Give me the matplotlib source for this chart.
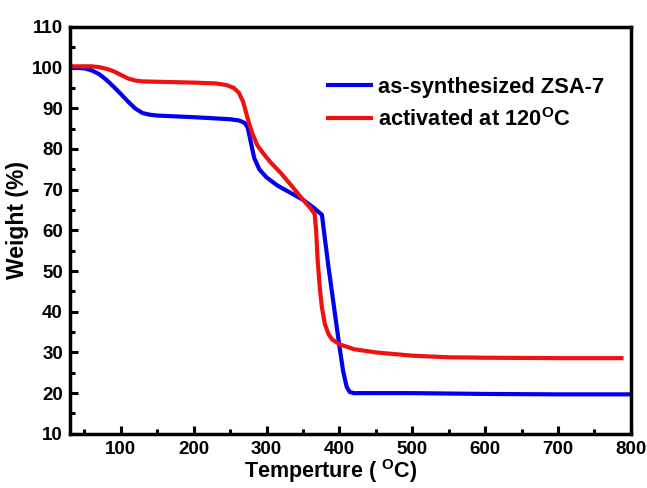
import matplotlib
matplotlib.use("Agg")
import matplotlib.pyplot as plt
import numpy as np

plt.rcParams['font.family'] = ['Liberation Sans', 'DejaVu Sans']
plt.rcParams['font.weight'] = 'bold'
plt.rcParams['mathtext.default'] = 'regular'

# as-synthesized ZSA-7 (blue)
blue_T = [30, 50, 60, 70, 80, 90, 100, 110, 120, 130, 140, 150, 200, 250, 262, 270, 274, 278, 283, 290, 300, 315, 330, 350, 365, 376, 380, 385, 390, 395, 400, 405, 410, 414, 420, 500, 600, 700, 800]
blue_W = [100, 99.8, 99.3, 98.4, 97.0, 95.3, 93.5, 91.6, 89.9, 88.8, 88.4, 88.2, 87.8, 87.3, 87.0, 86.4, 85.3, 82.0, 77.8, 75.0, 73.0, 71.0, 69.5, 67.5, 65.5, 63.8, 58.0, 51.0, 44.5, 38.0, 31.5, 25.5, 21.5, 20.3, 20.0, 20.0, 19.8, 19.7, 19.7]

# activated at 120 C (red)
red_T = [30, 60, 70, 80, 90, 100, 110, 120, 130, 150, 200, 230, 245, 255, 262, 268, 274, 280, 287, 295, 305, 320, 335, 350, 360, 366, 368, 370, 373, 376, 380, 385, 390, 400, 420, 450, 500, 550, 600, 700, 790]
red_W = [100.3, 100.3, 100.1, 99.7, 99.1, 98.2, 97.3, 96.8, 96.6, 96.5, 96.3, 96.1, 95.7, 95.0, 93.8, 91.5, 87.5, 84.0, 81.0, 79.0, 76.8, 74.0, 70.8, 67.5, 65.5, 64.0, 60.0, 53.0, 46.0, 41.0, 37.0, 34.5, 33.2, 32.0, 30.8, 30.0, 29.2, 28.8, 28.7, 28.6, 28.6]

labels = ['as-synthesized ZSA-7', 'activated at 120$^{O}$C']

fig = plt.figure(figsize=(6.47, 4.88), dpi=100)
ax = fig.add_axes([0.108, 0.111, 0.867, 0.834])

ax.plot(blue_T, blue_W, color='#0000ee', lw=3, label=labels[0], solid_capstyle='butt')
ax.plot(red_T, red_W, color='#ee1111', lw=3, label=labels[1], solid_capstyle='butt')

ax.set_xlim(30, 800)
ax.set_ylim(10, 110)
ax.set_xticks([100, 200, 300, 400, 500, 600, 700, 800])
ax.set_xticks(np.arange(50, 800, 50), minor=True)
ax.set_yticks(np.arange(10, 111, 10))
ax.set_yticks(np.arange(15, 110, 10), minor=True)
ax.tick_params(which='major', direction='in', length=6, width=2.2, labelsize=13.5, top=False, right=False, pad=5)
ax.tick_params(which='minor', direction='in', length=3.5, width=2.2, top=False, right=False)
for lab in ax.get_xticklabels() + ax.get_yticklabels():
    lab.set_fontweight('bold')
for s in ax.spines.values():
    s.set_linewidth(2.5)

ax.set_xlabel('Temperture ( $^{O}$C)', fontsize=15.5, fontweight='bold', labelpad=0)
ax.set_ylabel('Weight (%)', fontsize=16.5, fontweight='bold', labelpad=4)
ax.xaxis.set_label_coords(0.465, -0.057)
ax.yaxis.set_label_coords(-0.072, 0.526)

leg = ax.legend(loc='upper right', bbox_to_anchor=(0.988, 0.925), frameon=False, fontsize=15.75,
                handlelength=2.15, handletextpad=0.23, labelspacing=0.45)
for t in leg.get_texts():
    t.set_fontweight('bold')

fig.savefig('out.png', dpi=100)
